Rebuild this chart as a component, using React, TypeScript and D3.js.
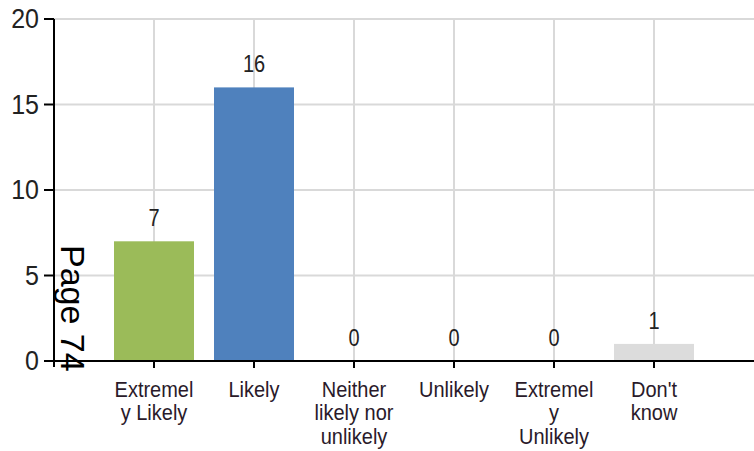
import React from "react";
import * as d3 from "d3";

const categories = ["Extremely Likely", "Likely", "Neither likely nor unlikely", "Unlikely", "Extremely Unlikely", "Don't know"];
const labelLines = [["Extremel", "y Likely"], ["Likely"], ["Neither", "likely nor", "unlikely"], ["Unlikely"], ["Extremel", "y", "Unlikely"], ["Don't", "know"]];
const values = [7, 16, 0, 0, 0, 1];
const barColors = ["#9BBB59", "#4F81BD", "#9BBB59", "#9BBB59", "#9BBB59", "#DCDCDC"];
const yTicks = [0, 5, 10, 15, 20];

const W = 754, H = 451;
const left = 54, right = 754, top = 19, bottom = 361;

export default function App() {
  const y = d3.scaleLinear().domain([0, 20]).range([bottom, top]);
  const x = d3.scaleBand<string>().domain(categories).range([104, 704]).paddingInner(0.2).paddingOuter(0.1);
  const font = "'Liberation Sans', Arial, sans-serif";
  const stretched = (tx: number, ty: number, s: number) => `translate(${tx},${ty}) scale(1,${s})`;
  const labelScale = 1.06;
  const lineStep = 23.5 / labelScale;
  return (
    <svg width={W} height={H} style={{ position: "absolute", left: 0, top: 0 }} fontFamily={font}>
      <rect width={W} height={H} fill="#fff" />
      {yTicks.filter(t => t > 0).map(t => (
        <line key={"hg" + t} x1={left} x2={right} y1={y(t)} y2={y(t)} stroke="#D9D9D9" strokeWidth={2} />
      ))}
      {categories.map(c => {
        const cx = (x(c) as number) + x.bandwidth() / 2;
        return <line key={"vg" + c} x1={cx} x2={cx} y1={top} y2={bottom} stroke="#D9D9D9" strokeWidth={2} />;
      })}
      {categories.map((c, i) => (
        <rect key={"b" + c} x={x(c)} width={x.bandwidth()} y={y(values[i])} height={bottom - y(values[i])} fill={barColors[i]} />
      ))}
      {categories.map((c, i) => {
        const cx = (x(c) as number) + x.bandwidth() / 2;
        return <text key={"v" + c} transform={stretched(cx, y(values[i]) - 15, 1.2)} textAnchor="middle" fontSize={20} fill="#222">{values[i]}</text>;
      })}
      <line x1={left} x2={left} y1={top} y2={bottom + 6} stroke="#000" strokeWidth={2} />
      <line x1={left - 10} x2={right} y1={bottom} y2={bottom} stroke="#000" strokeWidth={2} />
      {yTicks.map(t => (
        <g key={"yt" + t}>
          <line x1={left - 10} x2={left} y1={y(t)} y2={y(t)} stroke="#000" strokeWidth={2} />
          <text transform={stretched(39, y(t) + 9, 1.12)} textAnchor="end" fontSize={25} fill="#222">{t}</text>
        </g>
      ))}
      {categories.map((c, i) => {
        const cx = (x(c) as number) + x.bandwidth() / 2;
        return (
          <g key={"xt" + c}>
            <line x1={cx} x2={cx} y1={bottom} y2={bottom + 7} stroke="#000" strokeWidth={2} />
            <text transform={stretched(cx, 397, labelScale)} textAnchor="middle" fontSize={20} fill="#2a1a2a">
              {labelLines[i].map((ln, j) => (
                <tspan key={j} x={0} y={j * lineStep}>{ln}</tspan>
              ))}
            </text>
          </g>
        );
      })}
      <text transform="translate(61,245) rotate(90)" fontSize={34} fill="#000">Page 74</text>
    </svg>
  );
}
